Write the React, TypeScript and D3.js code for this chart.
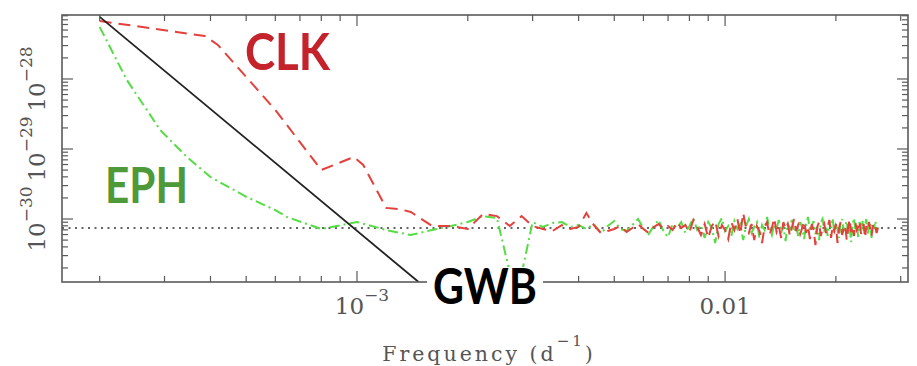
import React from "react";
import * as d3 from "d3";

const W = 917;
const H = 366;
const PLOT = { left: 62, top: 15, right: 908, bottom: 282 };

// power values are given in units of 1e-31
const UNIT = 1e-31;

// ---- CLK (red dashed) low-frequency part
const clkLowFreq = [2.0e-4, 3.86e-4, 4.19e-4, 6.0e-4, 8.0e-4, 9.8e-4, 1.04e-3, 1.2e-3, 1.3e-3, 1.4e-3];
const clkLowPower = [6740, 4110, 3060, 361, 50.1, 76.9, 59.1, 14.4, 13.9, 12.6];

// ---- EPH (green dash-dot) low-frequency part
const ephLowFreq = [2.0e-4, 2.37e-4, 2.92e-4, 3.45e-4, 4.0e-4, 5.02e-4, 6.0e-4, 6.45e-4, 8.0e-4, 1.0e-3, 1.2e-3, 1.4e-3];
const ephLowPower = [5530, 968, 187, 76.9, 39.8, 20.6, 13.4, 10.7, 7.2, 9.06, 6.97, 5.91];

// ---- white-noise region, frequencies in units of 1e-4 d^-1
const noiseFreqE4 = [
  16, 18, 20, 22, 24, 26, 28, 30, 32, 34, 36, 38, 40, 42, 44, 46, 48, 50, 52, 54,
  56, 58, 60, 62, 64, 66, 68, 70, 72, 74, 76, 78, 80, 82, 84, 86, 88, 90, 92, 94,
  96, 98, 100, 102, 104, 106, 108, 110, 112, 114, 116, 118, 120, 122, 124, 126, 128, 130, 132, 134,
  136, 138, 140, 142, 144, 146, 148, 150, 152, 154, 156, 158, 160, 162, 164, 166, 168, 170, 172, 174,
  176, 178, 180, 182, 184, 186, 188, 190, 192, 194, 196, 198, 200, 202, 204, 206, 208, 210, 212, 214,
  216, 218, 220, 222, 224, 226, 228, 230, 232, 234, 236, 238, 240, 242, 244, 246, 248, 250, 252, 254,
  256, 258, 260,
];

const clkNoisePower = [
  7.94, 7.94, 7.2, 11.8, 11.0, 7.94, 11.0, 7.94, 7.2, 6.74,
  8.2, 7.2, 7.69, 12.2, 8.2, 6.31, 6.74, 7.2, 7.94, 6.52,
  7.44, 8.48, 7.2, 6.31, 7.69, 8.48, 7.2, 7.94, 6.97, 9.06,
  7.44, 8.2, 6.52, 9.7, 7.69, 5.91, 8.48, 5.36, 7.94, 9.36,
  5.72, 8.2, 6.97, 5.18, 9.06, 6.97, 10.0, 6.11, 12.2, 7.44,
  6.31, 8.48, 5.0, 7.94, 6.74, 4.54, 7.69, 9.06, 5.91, 7.44,
  10.3, 6.52, 7.94, 5.36, 9.06, 7.2, 8.48, 5.72, 7.69, 10.0,
  6.74, 8.2, 6.11, 7.44, 9.36, 6.31, 7.94, 5.18, 8.48, 6.97,
  4.25, 7.69, 9.06, 5.72, 7.2, 8.48, 6.31, 7.69, 9.7, 5.36,
  7.94, 6.74, 8.48, 4.54, 7.44, 9.06, 5.91, 7.2, 8.2, 5.0,
  7.69, 10.0, 6.52, 7.94, 5.72, 8.77, 6.97, 7.69, 9.36, 6.11,
  7.44, 8.48, 5.36, 7.94, 6.74, 9.06, 7.2, 5.72, 8.2, 6.97,
  7.69, 6.31, 7.44,
];

const ephNoisePower = [
  6.97, 7.94, 9.06, 11.0, 10.3, 1.75, 1.64, 9.06, 7.69, 8.77,
  9.06, 7.69, 8.2, 7.2, 8.48, 6.31, 7.94, 9.36, 7.2, 6.74,
  8.2, 10.0, 7.44, 6.11, 7.94, 9.7, 6.74, 5.53, 8.48, 7.44,
  9.06, 6.31, 7.94, 10.3, 6.97, 8.2, 5.36, 9.06, 7.44, 4.54,
  8.48, 10.3, 6.74, 7.94, 5.72, 9.36, 7.2, 8.48, 5.0, 7.94,
  10.0, 6.31, 7.69, 9.06, 5.36, 8.2, 6.97, 10.7, 7.44, 5.91,
  8.48, 7.2, 9.7, 6.31, 7.94, 4.85, 8.77, 7.2, 10.3, 6.52,
  7.94, 5.72, 9.06, 7.44, 5.18, 8.48, 10.7, 6.74, 7.94, 9.36,
  6.11, 7.69, 5.0, 8.77, 10.0, 6.97, 7.94, 5.72, 9.06, 7.44,
  10.3, 6.31, 8.2, 7.2, 5.36, 8.77, 10.0, 6.74, 7.94, 9.36,
  5.91, 7.69, 4.69, 8.48, 10.3, 6.97, 8.2, 5.53, 9.06, 7.2,
  9.7, 6.52, 7.94, 10.0, 6.11, 7.69, 9.06, 5.36, 8.2, 7.2,
  9.36, 6.52, 7.69,
];

// ---- GWB power law (solid black)
const gwbFreq = [2.0e-4, 1.47e-3];
const gwbPower = [7700, 1.26];

// ---- white noise level (dotted)
const noiseLevel = 7.44;

// ---- axis domain & labels
const xDomain = [1.58e-4, 0.0314];
const yDomain = [1.26e-31, 8.2e-28];
const xTickValues = [1e-3, 0.01];
const xTickBase = ["10", "0.01"];
const xTickExp = ["\u22123", ""];
const yTickValues = [1e-30, 1e-29, 1e-28];
const yTickExp = ["\u221230", "\u221229", "\u221228"];

export default function App() {
  const x = d3.scaleLog().domain(xDomain).range([PLOT.left, PLOT.right]);
  const y = d3.scaleLog().domain(yDomain).range([PLOT.bottom, PLOT.top]);

  const clk = [
    ...clkLowFreq.map((f, i) => [f, clkLowPower[i] * UNIT]),
    ...noiseFreqE4.map((f, i) => [f * 1e-4, clkNoisePower[i] * UNIT]),
  ];
  const eph = [
    ...ephLowFreq.map((f, i) => [f, ephLowPower[i] * UNIT]),
    ...noiseFreqE4.map((f, i) => [f * 1e-4, ephNoisePower[i] * UNIT]),
  ];
  const gwb = gwbFreq.map((f, i) => [f, gwbPower[i] * UNIT]);

  const line = d3
    .line<number[]>()
    .x((d) => x(d[0]))
    .y((d) => y(d[1]));

  const isMajor = (t: number) => Math.abs(Math.log10(t) - Math.round(Math.log10(t))) < 1e-6;
  const xt = x.ticks().filter((t) => t >= xDomain[0] && t <= xDomain[1]);
  const yt = y.ticks().filter((t) => t >= yDomain[0] && t <= yDomain[1]);

  const axisColor = "#5a5a5a";
  const textColor = "#555";
  const serif = "'DejaVu Serif', serif";
  const sans = "Lato, 'Open Sans', sans-serif";

  return (
    <svg
      width={W}
      height={H}
      style={{ position: "absolute", left: 0, top: 0, background: "#fff" }}
    >
      <rect x={0} y={0} width={W} height={H} fill="#fff" />
      <defs>
        <clipPath id="plotClip">
          <rect
            x={PLOT.left}
            y={PLOT.top}
            width={PLOT.right - PLOT.left}
            height={PLOT.bottom - PLOT.top}
          />
        </clipPath>
      </defs>

      {/* dotted white-noise level */}
      <line
        x1={PLOT.left}
        x2={PLOT.right}
        y1={y(noiseLevel * UNIT)}
        y2={y(noiseLevel * UNIT)}
        stroke="#333"
        strokeWidth={1.5}
        strokeDasharray="2,4.5"
      />

      <g clipPath="url(#plotClip)" fill="none">
        <path
          d={line(eph) || ""}
          stroke="#55dd44"
          strokeWidth={2}
          strokeDasharray="10,4,2,4"
        />
        <path
          d={line(clk) || ""}
          stroke="#e4403c"
          strokeWidth={2}
          strokeDasharray="12,7"
        />
        <path d={line(gwb) || ""} stroke="#222" strokeWidth={1.8} />
      </g>

      {/* frame */}
      <rect
        x={PLOT.left}
        y={PLOT.top}
        width={PLOT.right - PLOT.left}
        height={PLOT.bottom - PLOT.top}
        fill="none"
        stroke={axisColor}
        strokeWidth={1.6}
      />

      {/* x ticks (bottom & top) */}
      {xt.map((t, i) => {
        const len = isMajor(t) ? 11 : 6;
        const px = x(t);
        return (
          <g key={"xt" + i} stroke={axisColor} strokeWidth={1.2}>
            <line x1={px} x2={px} y1={PLOT.bottom} y2={PLOT.bottom - len} />
            <line x1={px} x2={px} y1={PLOT.top} y2={PLOT.top + len} />
          </g>
        );
      })}
      {/* y ticks (left & right) */}
      {yt.map((t, i) => {
        const len = isMajor(t) ? 11 : 6;
        const py = y(t);
        return (
          <g key={"yt" + i} stroke={axisColor} strokeWidth={1.2}>
            <line x1={PLOT.left} x2={PLOT.left + len} y1={py} y2={py} />
            <line x1={PLOT.right} x2={PLOT.right - len} y1={py} y2={py} />
          </g>
        );
      })}

      {/* x tick labels */}
      {xTickValues.map((v, i) => (
        <text
          key={"xl" + i}
          x={x(v) + (xTickExp[i] ? 5 : 0)}
          y={314}
          textAnchor="middle"
          fontFamily={serif}
          fontSize={23}
          fill={textColor}
        >
          {xTickBase[i]}
          {xTickExp[i] ? (
            <tspan dy={-13} fontSize={17}>
              {xTickExp[i]}
            </tspan>
          ) : null}
        </text>
      ))}

      {/* y tick labels (rotated) */}
      {yTickValues.map((v, i) => (
        <text
          key={"yl" + i}
          transform={`translate(45, ${y(v)}) rotate(-90)`}
          textAnchor="middle"
          fontFamily={serif}
          fontSize={23}
          fill={textColor}
        >
          10
          <tspan dy={-13} fontSize={17}>
            {yTickExp[i]}
          </tspan>
        </text>
      ))}

      {/* x axis title */}
      <text
        x={(PLOT.left + PLOT.right) / 2 + 4}
        y={361}
        textAnchor="middle"
        fontFamily={serif}
        fontSize={20.5}
        letterSpacing={3}
        fill={textColor}
      >
        Frequency (d
        <tspan dy={-15} fontSize={15}>
          {"\u22121"}
        </tspan>
        <tspan dy={15}>)</tspan>
      </text>

      {/* annotations */}
      <text
        x={245}
        y={70}
        fontFamily={sans}
        fontWeight={700}
        fontSize={51}
        fill="#c4232b"
        textLength={85}
        lengthAdjust="spacingAndGlyphs"
      >
        CLK
      </text>
      <text
        x={105}
        y={203}
        fontFamily={sans}
        fontWeight={700}
        fontSize={49}
        fill="#4e9a38"
        textLength={83}
        lengthAdjust="spacingAndGlyphs"
      >
        EPH
      </text>
      <rect x={427} y={267} width={116} height={42} fill="#fff" />
      <text
        x={433}
        y={304}
        fontFamily={sans}
        fontWeight={700}
        fontSize={50}
        fill="#000"
        textLength={104}
        lengthAdjust="spacingAndGlyphs"
      >
        GWB
      </text>
    </svg>
  );
}
